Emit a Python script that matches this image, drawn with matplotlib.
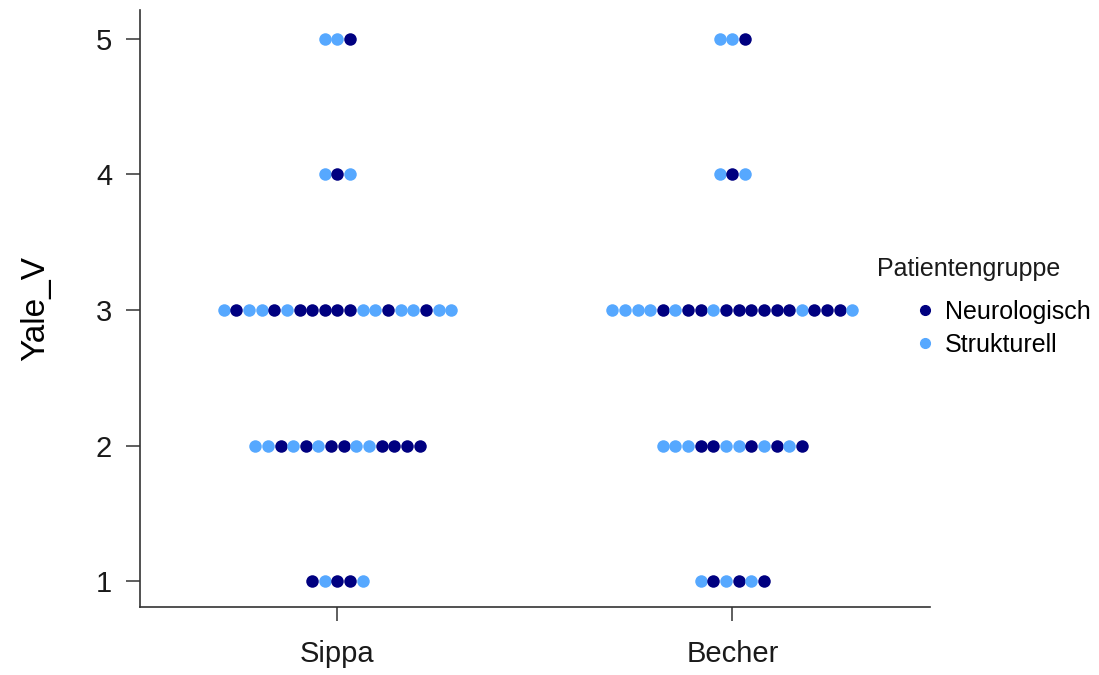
import matplotlib
matplotlib.use("Agg")
import matplotlib.pyplot as plt
from matplotlib.lines import Line2D

plt.rcParams["font.family"] = ["Liberation Sans", "DejaVu Sans"]

DARK = "#000080"
LIGHT = "#56A8FF"

categories = ["Sippa", "Becher"]
scores = [1, 2, 3, 4, 5]

# dot order along each row, N = Neurologisch, S = Strukturell
sippa_rows = {
    1: list("NSNNS"),
    2: list("SSNSNSNNSSNNNN"),
    3: list("SNSSNSNNNNNSSNSSNSS"),
    4: list("SNS"),
    5: list("SSN"),
}
becher_rows = {
    1: list("SNSNSN"),
    2: list("SSSNNSSNSNSN"),
    3: list("SSSSNSNNSNNNNNNSNNNS"),
    4: list("SNS"),
    5: list("SSN"),
}
rows = [sippa_rows, becher_rows]
colors = {"N": DARK, "S": LIGHT}

fig = plt.figure(figsize=(10.99, 6.75), dpi=100)
ax = fig.add_axes([0.1274, 0.1007, 0.7186, 0.8843])

step = 0.032
for ci, cat_rows in enumerate(rows):
    xc = ci + 1
    for score in scores:
        codes = cat_rows[score]
        n = len(codes)
        for i, c in enumerate(codes):
            ax.plot(xc + (i - (n - 1) / 2) * step, score, "o",
                    color=colors[c], markersize=9, markeredgewidth=0)

ax.set_xlim(0.5, 2.5)
ax.set_ylim(0.81, 5.21)
ax.set_xticks([1, 2])
ax.set_xticklabels(categories)
ax.set_yticks(scores)
ax.set_ylabel("Yale_V", fontsize=24, labelpad=32)

for s in ["top", "right"]:
    ax.spines[s].set_visible(False)
for s in ["left", "bottom"]:
    ax.spines[s].set_color("#333333")
    ax.spines[s].set_linewidth(1.2)
ax.tick_params(axis="both", length=10, width=1.1, color="#333333",
               labelsize=21, labelcolor="#1a1a1a")
ax.tick_params(axis="y", pad=10)
ax.tick_params(axis="x", pad=14)

handles = [Line2D([], [], marker="o", ls="", color=DARK, markersize=7),
           Line2D([], [], marker="o", ls="", color=LIGHT, markersize=7)]
fig.text(877 / 1099, 1 - 269 / 675, "Patientengruppe", fontsize=18,
         va="center", ha="left", color="#1a1a1a")
fig.legend(handles, ["Neurologisch", "Strukturell"], loc="upper left",
           bbox_to_anchor=(915 / 1099, 1 - 300 / 675), frameon=False,
           fontsize=18, handlelength=0.8, handletextpad=0.4,
           labelspacing=0.35, borderpad=0, borderaxespad=0)

fig.savefig("out.png", dpi=100, facecolor="white")
